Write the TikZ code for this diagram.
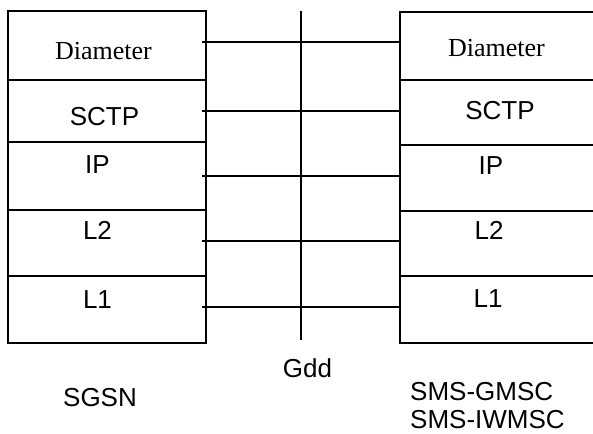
\documentclass[tikz,border=0pt]{standalone}
\usepackage{fontspec}
\setmainfont{Liberation Sans}
\newfontfamily\timesfont{Liberation Serif}
\begin{document}
\begin{tikzpicture}[x=1pt,y=-1pt,
  lw/.style={line width=1.3pt},
  lbl/.style={inner sep=0pt,anchor=base,font=\fontsize{26}{30}\selectfont},
  serif/.style={inner sep=0pt,anchor=base,font=\timesfont\fontsize{26}{30}\selectfont},
  link/.style={line width=1.3pt}]
\useasboundingbox (0,0) rectangle (593,433);
% left stack (SGSN)
\draw[lw] (8,11) rectangle (206,343);
\foreach \y in {80,142,210,276} \draw[lw] (8,\y) -- (206,\y);
% right stack (SMS-GMSC / SMS-IWMSC), open at the picture's right edge
\draw[lw] (596,12) -- (400,12) -- (400,343) -- (596,343);
\foreach \y in {80,145,211,276} \draw[lw] (400,\y) -- (596,\y);
% Gdd reference line
\coordinate (gt) at (301,11);
\coordinate (gb) at (301,340);
\draw[lw] (gt) -- (gb);
% peer links
\foreach \n/\y in {d/42,s/111,i/176,b/241,a/307}{
  \coordinate (l\n) at (202,\y);
  \coordinate (r\n) at (400,\y);
  \draw[link] (l\n) -- (r\n);
}
% left labels
\node[serif] (ldiam) at (103.5,60) {Diameter};
\node[lbl] (lsctp) at (104.5,125) {SCTP};
\node[lbl] (lip) at (97.5,173) {IP};
\node[lbl] (ll2) at (97.5,239) {L2};
\node[lbl] (ll1) at (97.5,308) {L1};
% right labels
\node[serif] (rdiam) at (496.5,57) {Diameter};
\node[lbl] (rsctp) at (500,119) {SCTP};
\node[lbl] (rip) at (491,174) {IP};
\node[lbl] (rl2) at (489,239) {L2};
\node[lbl] (rl1) at (488,307) {L1};
% captions
\node[lbl] (sgsn) at (100,406) {SGSN};
\node[lbl] (gdd) at (307.5,377) {Gdd};
\node[lbl,anchor=base west] (gmsc) at (410,400) {SMS-GMSC};
\node[lbl,anchor=base west] (iwmsc) at (410,428) {SMS-IWMSC};
\end{tikzpicture}
\end{document}
